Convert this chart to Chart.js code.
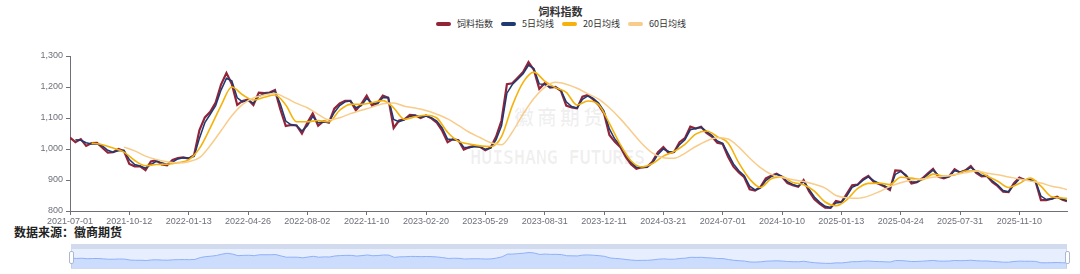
<!DOCTYPE html>
<html>
<head>
<meta charset="utf-8">
<script src="https://cdn.jsdelivr.net/npm/chart.js@4.4.1/dist/chart.umd.min.js"></script>
<style>
  body { margin: 0; background: #fff; overflow: hidden; }
  #page { position: relative; width: 1080px; height: 274px; font-family: "Noto Sans CJK SC", "Noto Sans", sans-serif; }
  #title { position: absolute; top: 3px; left: 0; width: 1121px; text-align: center; font-size: 11px; font-weight: bold; color: #333; line-height: 16px; }
  #legend { position: absolute; top: 18px; left: 0; width: 1122px; display: flex; justify-content: center; gap: 8px; font-size: 9px; line-height: 12px; color: #333; }
  #legend .item { display: flex; align-items: center; gap: 6px; }
  #legend .icon { width: 15px; height: 4px; border-radius: 2px; }
  .wm { position: absolute; color: rgba(0,0,0,0.06); font-weight: bold; white-space: nowrap; }
  #main { position: absolute; left: 0; top: 0; z-index: 1; }
  #source { position: absolute; left: 14px; top: 225px; font-size: 12px; font-weight: bold; color: #222; line-height: 14px; }
  #slider { position: absolute; left: 71px; top: 244px; width: 996px; height: 25px; box-sizing: border-box; border: 1px solid #d2dbee; background: rgba(135,175,255,0.2); }
  #band { position: absolute; left: 0; top: 0; right: 0; height: 4px; background: #d2dbee; }
  #mini { position: absolute; left: 71px; top: 249px; }
  .handle { position: absolute; top: 251px; width: 5px; height: 13px; box-sizing: border-box; background: #fff; border: 1px solid #acb8d1; border-radius: 2px; z-index: 2; }
</style>
</head>
<body>
<div id="page">
  <div class="wm" style="left:514px; top:102px; font-size:20px; letter-spacing:3px;">徽商期货</div>
  <div class="wm" style="left:470px; top:146px; font-size:19px; font-family:'DejaVu Sans Mono', monospace; letter-spacing:-0.5px;">HUISHANG FUTURES</div>
  <canvas id="main" width="1080" height="228"></canvas>
  <div id="title"></div>
  <div id="legend"></div>
  <div id="source">数据来源：徽商期货</div>
  <div id="slider"><div id="band"></div></div>
  <canvas id="mini" width="996" height="19"></canvas>
  <div class="handle" style="left:69px;"></div>
  <div class="handle" style="left:1065px;"></div>
</div>
<script>
const chartTitle = '饲料指数';
const seriesNames = ['饲料指数', '5日均线', '20日均线', '60日均线'];
const seriesColors = ['#922438', '#1e3a70', '#f5b20a', '#f8cc8a'];

// x axis labels, one every 66 trading days
const tickLabels = ['2021-07-01', '2021-10-12', '2022-01-13', '2022-04-26', '2022-08-02', '2022-11-10',
  '2023-02-20', '2023-05-29', '2023-08-31', '2023-12-11', '2024-03-21', '2024-07-01', '2024-10-10',
  '2025-01-13', '2025-04-24', '2025-07-31', '2025-11-10'];
const labelEvery = 66;
const lastDay = 1109;
const indexStep = 6;   // feedIndex / ma5 read every 6 trading days
const maStep = 12;     // ma20 / ma60 read every 12 trading days

const feedIndex = [
  1037, 1022, 1032, 1010, 1019, 1020, 1004, 988, 990, 1000,
  993, 952, 944, 944, 932, 960, 964, 950, 947, 965,
  971, 973, 969, 980, 1061, 1102, 1120, 1150, 1208, 1245,
  1210, 1142, 1155, 1160, 1142, 1182, 1180, 1182, 1190, 1128,
  1074, 1078, 1076, 1050, 1085, 1115, 1075, 1090, 1085, 1130,
  1147, 1155, 1155, 1125, 1145, 1172, 1140, 1148, 1172, 1165,
  1068, 1092, 1096, 1110, 1109, 1100, 1108, 1099, 1085, 1059,
  1022, 1032, 1028, 998, 1006, 1010, 1007, 996, 1005, 1040,
  1092, 1209, 1212, 1230, 1248, 1280, 1255, 1194, 1212, 1198,
  1200, 1188, 1140, 1134, 1131, 1169, 1174, 1160, 1142, 1115,
  1045, 1023, 1007, 975, 951, 936, 941, 942, 960, 990,
  1006, 987, 990, 1022, 1035, 1072, 1066, 1072, 1052, 1040,
  1020, 1016, 975, 943, 924, 909, 870, 866, 877, 905,
  914, 920, 910, 890, 883, 878, 900, 864, 838, 823,
  811, 810, 832, 828, 855, 883, 885, 903, 913, 894,
  887, 879, 868, 931, 930, 913, 889, 893, 905, 921,
  936, 910, 905, 912, 935, 924, 931, 945, 923, 912,
  913, 893, 880, 862, 861, 890, 908, 900, 900, 895,
  835, 835, 840, 846, 836, 832
];

const ma5 = [
  null, 1030, 1028, 1020, 1016, 1017, 1010, 996, 990, 994,
  996, 966, 950, 945, 938, 950, 960, 956, 950, 958,
  968, 972, 971, 976, 1035, 1085, 1112, 1140, 1190, 1228,
  1220, 1165, 1152, 1157, 1148, 1170, 1178, 1181, 1186, 1145,
  1090, 1078, 1076, 1058, 1075, 1105, 1085, 1087, 1086, 1118,
  1140, 1152, 1155, 1133, 1140, 1163, 1148, 1146, 1165, 1166,
  1095, 1088, 1094, 1105, 1108, 1103, 1106, 1101, 1090, 1068,
  1032, 1030, 1028, 1006, 1004, 1008, 1007, 999, 1003, 1030,
  1075, 1180, 1208, 1225, 1243, 1270, 1260, 1210, 1208, 1200,
  1199, 1190, 1152, 1137, 1132, 1160, 1171, 1163, 1148, 1122,
  1065, 1032, 1012, 983, 958, 941, 940, 942, 955, 982,
  1000, 992, 990, 1014, 1030, 1062, 1066, 1070, 1057, 1044,
  1026, 1018, 985, 952, 930, 914, 880, 868, 874, 898,
  911, 918, 912, 895, 886, 880, 895, 870, 845, 828,
  815, 811, 826, 828, 848, 876, 884, 899, 910, 898,
  889, 881, 872, 918, 928, 916, 894, 893, 902, 917,
  932, 915, 907, 911, 930, 926, 930, 941, 928, 915,
  913, 897, 884, 866, 862, 884, 903, 901, 900, 896,
  848, 837, 839, 844, 838, 834
];

const ma20 = [
  null, null, 1019, 1014, 1003, 990, 963, 946, 950, 951,
  956, 965, 1002, 1068, 1140, 1200, 1175, 1158, 1167, 1174,
  1142, 1088, 1088, 1092, 1088, 1125, 1144, 1144, 1149, 1156,
  1133, 1096, 1104, 1109, 1100, 1054, 1025, 1016, 1010, 1008,
  1040, 1140, 1215, 1248, 1219, 1198, 1183, 1142, 1155, 1143,
  1083, 1015, 962, 942, 953, 977, 992, 1015, 1048, 1058,
  1040, 1019, 955, 903, 876, 904, 910, 892, 885, 864,
  829, 817, 836, 872, 889, 890, 885, 909, 906, 901,
  919, 913, 916, 929, 930, 913, 896, 876, 889, 906,
  880, 846, 842, 840
];

const ma60 = [
  null, null, null, null, null, 1006, 994, 977, 966, 959,
  955, 959, 972, 1011, 1059, 1107, 1144, 1165, 1174, 1179,
  1165, 1147, 1133, 1112, 1094, 1101, 1114, 1125, 1135, 1146,
  1148, 1138, 1132, 1124, 1112, 1097, 1076, 1054, 1037, 1020,
  1014, 1055, 1113, 1163, 1199, 1215, 1209, 1196, 1178, 1161,
  1133, 1098, 1058, 1018, 987, 972, 970, 986, 1008, 1026,
  1036, 1032, 1006, 971, 940, 918, 908, 901, 895, 886,
  874, 850, 843, 841, 848, 862, 879, 891, 899, 903,
  909, 912, 918, 923, 929, 922, 917, 910, 903, 897,
  890, 880, 873, 869
];

const toPoints = (values, step) => values.map((v, i) => ({ x: Math.min(i * step, lastDay), y: v }));
const withCommas = v => String(v).replace(/\B(?=(\d{3})+(?!\d))/g, ',');
const axisFont = { size: 9, family: '"Liberation Sans", "Noto Sans", sans-serif' };
const axisColor = '#6E7079';

document.getElementById('title').textContent = chartTitle;
document.getElementById('legend').innerHTML = seriesNames.map((name, i) =>
  `<div class="item"><span class="icon" style="background:${seriesColors[i]}"></span><span>${name}</span></div>`).join('');

const seriesData = [toPoints(feedIndex, indexStep), toPoints(ma5, indexStep), toPoints(ma20, maStep), toPoints(ma60, maStep)];
const widths = [2.2, 1.5, 1.6, 1.5];
const smooth = [0, 0, 0.4, 0.4];

new Chart(document.getElementById('main'), {
  type: 'line',
  data: {
    datasets: seriesNames.map((name, i) => ({
      label: name,
      data: seriesData[i],
      borderColor: seriesColors[i],
      backgroundColor: seriesColors[i],
      borderWidth: widths[i],
      pointRadius: 0,
      tension: smooth[i],
      cubicInterpolationMode: i > 1 ? 'monotone' : 'default',
      order: 3 - i
    }))
  },
  options: {
    responsive: false,
    animation: false,
    devicePixelRatio: 1,
    layout: { padding: { top: 56, right: 13, left: 0, bottom: 0 } },
    plugins: { legend: { display: false }, title: { display: false }, tooltip: { enabled: false } },
    scales: {
      x: {
        type: 'linear',
        min: 0,
        max: lastDay,
        afterBuildTicks: axis => { axis.ticks = tickLabels.map((_, i) => ({ value: i * labelEvery })); },
        afterFit: scale => { scale.height = 17; },
        ticks: { callback: (v, i) => tickLabels[i], autoSkip: false, maxRotation: 0, padding: 1, color: axisColor, font: axisFont },
        grid: { drawOnChartArea: false, tickLength: 4, color: axisColor },
        border: { color: axisColor }
      },
      y: {
        min: 800,
        max: 1300,
        afterFit: scale => { scale.width = 70; },
        ticks: { stepSize: 100, callback: v => withCommas(v), padding: 3, color: axisColor, font: axisFont },
        grid: { drawOnChartArea: false, tickLength: 4, color: axisColor },
        border: { color: axisColor }
      }
    }
  }
});

// data zoom preview under the chart
new Chart(document.getElementById('mini'), {
  type: 'line',
  data: {
    datasets: [{
      data: seriesData[0],
      borderColor: '#8fb0f7',
      borderWidth: 1,
      backgroundColor: 'rgba(143,176,247,0.3)',
      fill: 'start',
      pointRadius: 0
    }]
  },
  options: {
    responsive: false,
    animation: false,
    devicePixelRatio: 1,
    layout: { padding: 0 },
    plugins: { legend: { display: false }, tooltip: { enabled: false } },
    scales: {
      x: { type: 'linear', min: 0, max: lastDay, display: false },
      y: { min: 610, max: 1430, display: false }
    }
  }
});
</script>
</body>
</html>
